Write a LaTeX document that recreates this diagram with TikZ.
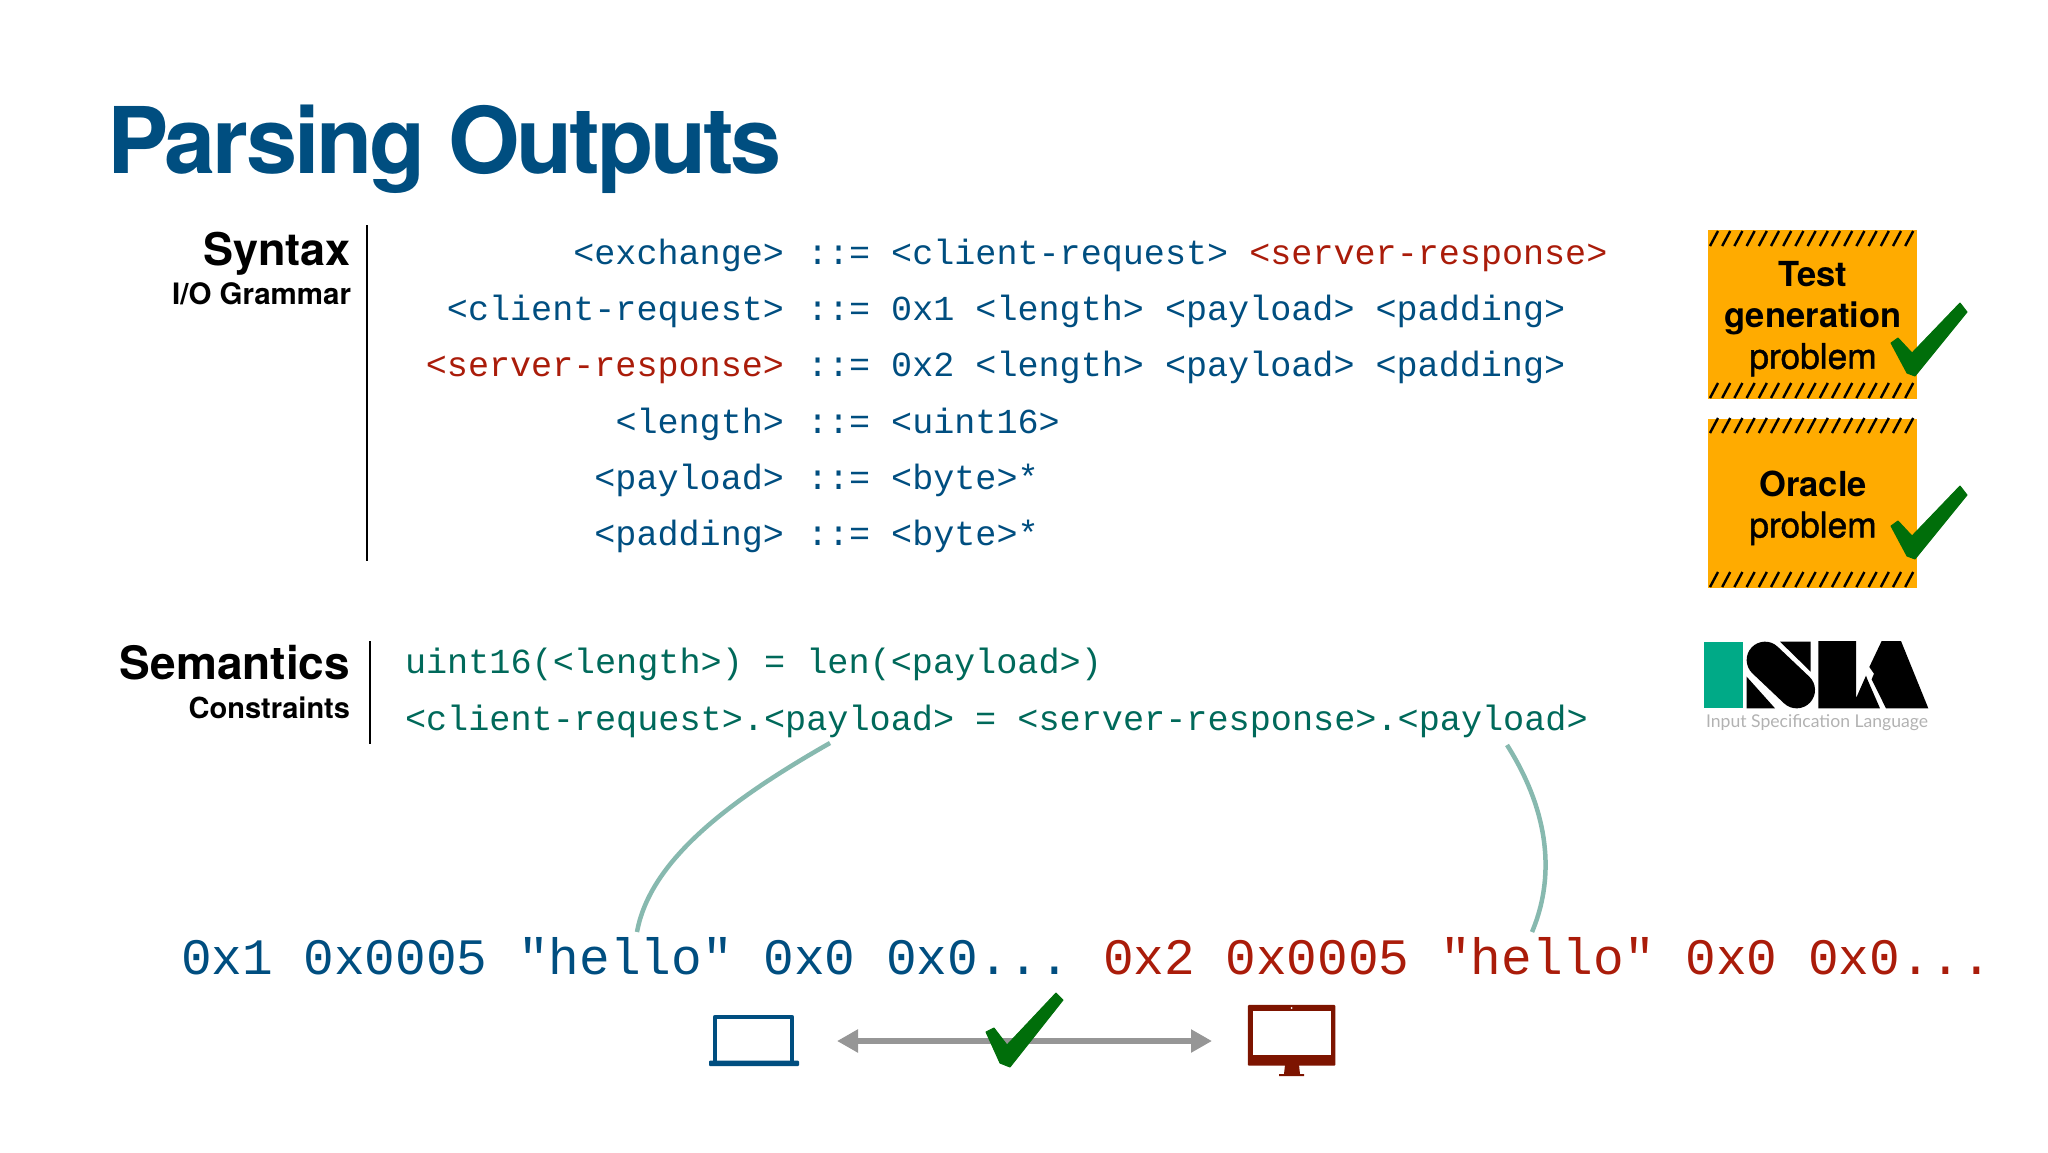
\documentclass[tikz,border=0pt]{standalone}
\usepackage{fontspec}
\usepackage{xcolor}
\usetikzlibrary{arrows.meta, positioning, calc}
\setmainfont{TeX Gyre Heros}
\newfontfamily\codefont{Liberation Mono}
\newfontfamily\logofont{Lato}
\newfontfamily\titlefont[LetterSpace=-3.4]{TeX Gyre Heros}
\newfontfamily\mediumfont[FakeBold=1.2]{TeX Gyre Heros}
\definecolor{themeblue}{RGB}{0, 78, 128}
\definecolor{themered}{RGB}{170, 28, 10}
\definecolor{themeteal}{RGB}{0, 105, 90}
\definecolor{themelink}{RGB}{135, 185, 175}
\definecolor{themegreen}{RGB}{0, 110, 10}
\definecolor{themeamber}{RGB}{255, 171, 0}
\definecolor{themegray}{RGB}{150, 150, 150}
\definecolor{themedesk}{RGB}{125, 20, 0}
\definecolor{themeisla}{RGB}{0, 170, 135}
\tikzset{
    txt/.style={inner sep=0pt, outer sep=0pt},
    grammar/.style={txt, font=\codefont\fontsize{35.1}{40}\selectfont, themeblue},
    constraint/.style={txt, anchor=base west, font=\codefont\fontsize{35.2}{40}\selectfont, themeteal},
    bytes/.style={txt, anchor=base west, font=\codefont\fontsize{51.1}{56}\selectfont},
    headline/.style={txt, anchor=base east, font=\bfseries\fontsize{46}{50}\selectfont},
    subline/.style={txt, anchor=base east, font=\bfseries\fontsize{29.5}{32}\selectfont},
    hazardbox/.style={txt, fill=themeamber, minimum width=209pt, minimum height=169pt, align=center, font=\fontsize{34.5}{41}\selectfont},
    stripe/.style={line width=2.4pt, black},
    link/.style={line width=4.5pt, themelink},
    tick/.style={fill=themegreen, draw=themegreen, line width=1pt, line join=round},
}
\begin{document}
\begin{tikzpicture}[x=1pt, y=-1pt, >=Stealth]
    \useasboundingbox (0,0) rectangle (2048,1152);
    \node[txt, anchor=base west, themeblue, font=\titlefont\bfseries\fontsize{92}{100}\selectfont] (title) at (107,173) {Parsing Outputs};

    \node[headline, font=\bfseries\fontsize{45}{50}\selectfont] (syntax) at (351,265) {Syntax};
    \node[subline] (iogrammar) at (351,304) {I/O Grammar};
    \draw[line width=2pt] (367,225) -- (367,561);
    \foreach \i/\y/\l/\r in {1/264/{<exchange>}/{::= <client-request> \textcolor{themered}{<server-response>}},
        2/320.5/{<client-request>}/{::= 0x1 <length> <payload> <padding>},
        3/376/{\textcolor{themered}{<server-response>}}/{::= 0x2 <length> <payload> <padding>},
        4/433/{<length>}/{::= <uint16>},
        5/489/{<payload>}/{::= <byte>*},
        6/545/{<padding>}/{::= <byte>*}}{
        \node[grammar, anchor=base east] (lhs\i) at (784,\y) {\l};
        \node[grammar, anchor=base west] (rhs\i) at (807,\y) {\r};
    }

    \node[hazardbox] (testbox) at (1812.5,314.5) {};
    \node[hazardbox] (oraclebox) at (1812.5,503.5) {};
    \node[txt, align=center, font=\fontsize{34.5}{41}\selectfont] (testtext) at (1813,319) {\textbf{Test}\\\textbf{generation}\\{\mediumfont\fontsize{35.3}{41}\selectfont problem}};
    \node[txt, align=center, font=\fontsize{34.5}{41}\selectfont] (oracletext) at (1813,508) {\textbf{Oracle}\\{\mediumfont\fontsize{35.3}{41}\selectfont problem}};
    \foreach \y in {246,398,433,587}{
        \foreach \i in {0,...,16}
            \draw[stripe] (1710+\i*12.2,\y) -- ++(8,-15);
    }
    \foreach \dy in {0,183}
        \fill[tick, yshift=-\dy pt] (1891,343) -- (1898,338) -- (1912,353) -- (1960,303) -- (1967,312) -- (1915,376) -- (1907,373) -- cycle;

    \node[headline] (semantics) at (350,679) {Semantics};
    \node[subline, font=\bfseries\fontsize{29}{32}\selectfont] (constraints) at (350,718) {Constraints};
    \draw[line width=2pt] (369.5,641) -- (369.5,744);
    \node[constraint] (len) at (405,673) {uint16(<length>) = len(<payload>)};
    \node[constraint] (eq) at (405,730) {<client-request>.<payload> = <server-response>.<payload>};

    \begin{scope}[shift={(1700,635)}, x=0.3333pt, y=-0.3333pt]
        \fill[themeisla] (13,20) rectangle (128,220);
        \draw[line width=36.7pt, line cap=round] (195,75) -- (290,165);
        \fill (240,20) -- (332,20) -- (332,110) -- cycle;
        \fill (140,125) -- (140,220) -- (225,220) -- cycle;
        \fill (355,18) -- (468,18) -- (468,190) -- (498,122) -- (503,135) -- (540,220) -- (355,220) -- cycle;
        \fill (545,18) -- (603,18) -- (685,220) -- (558,220) -- (515,133) -- (522,116) -- (508,96) -- cycle;
    \end{scope}
    \node[txt, anchor=base west, text=gray!60, font=\logofont\fontsize{17.6}{24}\selectfont] (isla) at (1706,727.5) {Input Specification Language};

    \node[bytes, themeblue] (clientbytes) at (181,974) {0x1 0x0005 "hello" 0x0 0x0...};
    \node[bytes, themered] (serverbytes) at (1103,974) {0x2 0x0005 "hello" 0x0 0x0...};

    \coordinate (reqpayload) at (830,743);
    \coordinate (reqhello) at (637,932);
    \coordinate (resppayload) at (1507,745);
    \coordinate (resphello) at (1532,932);
    \draw[link] (reqpayload) .. controls (730,800) and (650,860) .. (reqhello);
    \draw[link] (resppayload) .. controls (1545,805) and (1558,870) .. (resphello);

    \draw[themeblue, line width=4.5pt, line join=round] (715,1061) |- (792,1017) -- (792,1061);
    \fill[themeblue, rounded corners=1pt] (709,1060.5) rectangle (799,1066);
    \node[txt, fill=themedesk, minimum width=87.5pt, minimum height=60.7pt, rounded corners=1pt] (desktop) at (1291.6,1035.3) {};
    \fill[white] (1253,1011) rectangle (1331,1055.3);
    \fill[white] (1291.6,1008) circle (1pt);
    \fill[themedesk] (1285,1065) -- (1299,1065) -- (1300,1074) -- (1304,1074) -- (1304,1076) -- (1279,1076) -- (1279,1074) -- (1284,1074) -- cycle;

    \coordinate (arrowleft) at (837,1041);
    \coordinate (arrowright) at (1212,1041);
    \draw[{Triangle[length=21pt,width=22pt]}-{Triangle[length=21pt,width=22pt]}, themegray, line width=5.5pt] (arrowleft) -- (arrowright);
    \fill[tick] (986,1032) -- (994,1028) -- (1007,1045) -- (1056,993) -- (1063,1000) -- (1010,1067) -- (1000,1063) -- cycle;
\end{tikzpicture}
\end{document}
